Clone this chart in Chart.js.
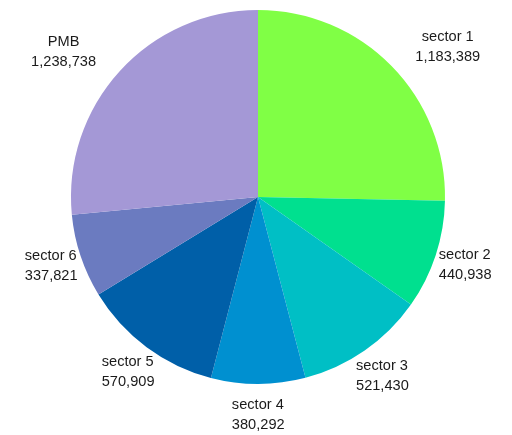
<!DOCTYPE html>
<html>
<head>
<meta charset="utf-8">
<script src="https://cdn.jsdelivr.net/npm/chart.js@4"></script>
<style>
  html, body { margin: 0; padding: 0; background: #fff; }
  #wrap { width: 512px; height: 435px; }
</style>
</head>
<body>
<div id="wrap"><canvas id="pie"></canvas></div>
<script>
var labels = ["sector 1", "sector 2", "sector 3", "sector 4", "sector 5", "sector 6", "PMB"];
var values = [1183389, 440938, 521430, 380292, 570909, 337821, 1238738];
var colors = ["#80ff45", "#00e08f", "#00bfc5", "#0090d0", "#005fa8", "#6b7bc0", "#a498d6"];

function fmt(n) {
    return n.toLocaleString("en-US");
}

// draws "name / value" outside each slice
var outsideLabels = {
    id: "outsideLabels",
    afterDraw: function (chart) {
        var ctx = chart.ctx;
        var meta = chart.getDatasetMeta(0);
        ctx.save();
        ctx.font = "14.6px 'Liberation Sans', Arial, sans-serif";
        ctx.fillStyle = "#1a1a1a";
        ctx.textBaseline = "middle";
        meta.data.forEach(function (arc, i) {
            var p = arc.getProps(["x", "y", "startAngle", "endAngle", "outerRadius"], true);
            var mid = (p.startAngle + p.endAngle) / 2;
            var c = Math.cos(mid), s = Math.sin(mid);
            var line1 = labels[i], line2 = fmt(values[i]);
            var w = Math.max(ctx.measureText(line1).width, ctx.measureText(line2).width);
            var h = 38;
            var upper = s < 0;
            var d = p.outerRadius + (upper ? 28 : 31);
            var cx = p.x + d * c, cy = p.y + d * s;
            if (upper) {
                // keep the box clear of the rim horizontally
                var ny = Math.abs(cy - p.y) - h / 2;
                var clear = p.outerRadius + 18;
                if (ny < clear) {
                    var nx = Math.sqrt(clear * clear - ny * ny);
                    var cur = Math.abs(cx - p.x) - w / 2;
                    if (cur < nx) cx = p.x + Math.sign(c) * (nx + w / 2);
                }
            }
            if (upper) {
                ctx.textAlign = "center";
                ctx.fillText(line1, cx, cy - 10);
                ctx.fillText(line2, cx, cy + 10);
            } else {
                ctx.textAlign = "left";
                ctx.fillText(line1, cx - w / 2, cy - 10);
                ctx.fillText(line2, cx - w / 2, cy + 10);
            }
        });
        ctx.restore();
    }
};

new Chart(document.getElementById("pie"), {
    type: "pie",
    data: {
        labels: labels,
        datasets: [
            {
                data: values,
                backgroundColor: colors,
                borderWidth: 0
            }
        ]
    },
    options: {
        responsive: true,
        maintainAspectRatio: false,
        animation: false,
        layout: {
            padding: { top: 10, bottom: 51, left: 71, right: 67 }
        },
        plugins: {
            legend: { display: false },
            tooltip: { enabled: false }
        }
    },
    plugins: [outsideLabels]
});
</script>
</body>
</html>
